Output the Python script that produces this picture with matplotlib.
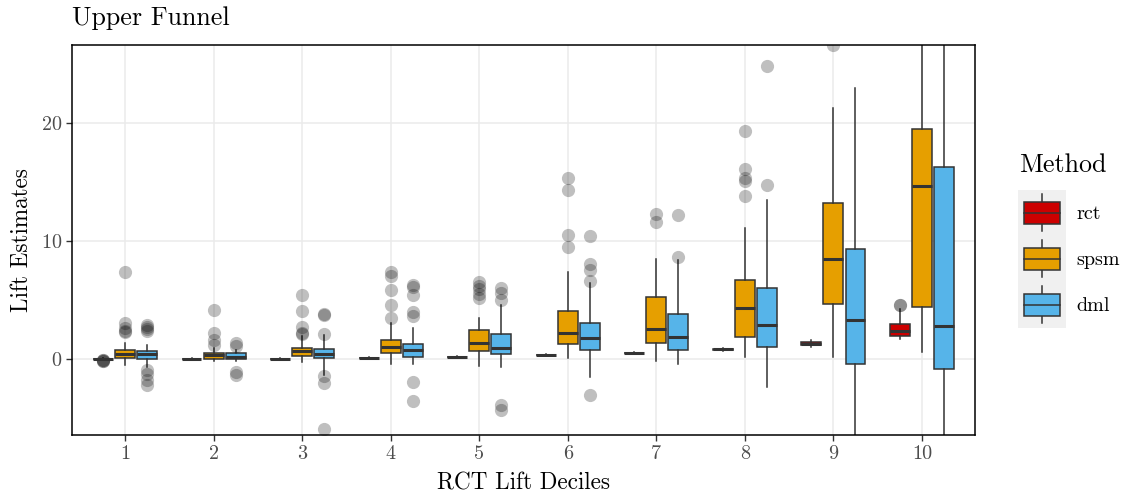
import matplotlib
matplotlib.use("Agg")
import matplotlib.pyplot as plt
from matplotlib.patches import Patch, Rectangle
from matplotlib.lines import Line2D
from matplotlib.legend_handler import HandlerBase

plt.rcParams['font.family'] = ['cmr10', 'DejaVu Serif']
plt.rcParams['axes.formatter.use_mathtext'] = True
plt.rcParams['mathtext.fontset'] = 'cm'

# data
deciles = [1, 2, 3, 4, 5, 6, 7, 8, 9, 10]
methods = ['rct', 'spsm', 'dml']
colors = ['#CC0000', '#E69F00', '#56B4E9']

rct_q1 = [-0.03, -0.02, -0.02, 0.06, 0.15, 0.32, 0.47, 0.75, 1.15, 1.95]
rct_med = [0.0, 0.0, 0.0, 0.08, 0.17, 0.34, 0.5, 0.8, 1.25, 2.37]
rct_q3 = [0.03, 0.02, 0.02, 0.1, 0.19, 0.36, 0.53, 0.85, 1.4, 2.97]
rct_lo = [-0.05, -0.05, -0.05, 0.03, 0.12, 0.29, 0.44, 0.7, 1.0, 1.7]
rct_hi = [0.06, 0.05, 0.05, 0.13, 0.22, 0.39, 0.56, 0.9, 1.6, 4.2]
rct_out = [[-0.1, -0.15, -0.2, -0.12], [], [], [], [], [], [], [], [], [4.6, 4.55]]

spsm_q1 = [0.08, 0.0, 0.25, 0.5, 0.68, 1.27, 1.37, 1.86, 4.66, 4.4]
spsm_med = [0.45, 0.35, 0.68, 1.0, 1.35, 2.2, 2.54, 4.3, 8.47, 14.66]
spsm_q3 = [0.76, 0.5, 0.95, 1.6, 2.46, 4.07, 5.27, 6.7, 13.2, 19.5]
spsm_lo = [-0.5, -0.15, -0.25, -0.4, -0.6, 0.08, -0.15, 0.17, 0.17, 0.6]
spsm_hi = [1.35, 0.9, 1.9, 3.05, 3.5, 7.37, 8.47, 11.1, 21.3, 30.0]
spsm_out = [[7.4, 3.0, 2.6, 2.4, 2.3], [4.15, 2.2, 1.6, 1.2], [5.4, 4.1, 2.7, 2.2, 2.1],
            [7.4, 7.0, 5.8, 4.6, 3.5], [6.5, 6.2, 5.9, 5.5, 5.2], [15.3, 14.3, 10.5, 9.5],
            [12.3, 11.6], [19.3, 16.1, 15.3, 15.1, 13.8], [26.6], []]

dml_q1 = [0.0, 0.0, 0.08, 0.17, 0.42, 0.76, 0.76, 1.0, -0.4, -0.85]
dml_med = [0.4, 0.2, 0.42, 0.75, 0.93, 1.8, 1.86, 2.9, 3.3, 2.8]
dml_q3 = [0.68, 0.5, 0.85, 1.3, 2.1, 3.05, 3.8, 6.0, 9.3, 16.3]
dml_lo = [-0.7, -0.2, -1.35, -0.4, -0.65, -1.5, -0.4, -2.4, -8.0, -9.0]
dml_hi = [1.2, 0.75, 2.0, 2.6, 4.6, 6.4, 8.4, 13.5, 22.96, 30.0]
dml_out = [[2.9, 2.7, 2.5, 2.4, -0.9, -1.3, -1.8, -2.2], [1.35, 1.1, -1.1, -1.35],
           [3.8, 3.7, 2.1, -1.45, -2.05, -5.95], [6.25, 6.1, 5.4, 4.0, 3.6, -1.95, -3.6],
           [6.0, 5.6, 5.0, -3.9, -4.3], [10.4, 8.0, 7.5, 6.6, -3.05], [12.2, 8.65],
           [24.8, 14.7], [], []]

table = {
    'rct': (rct_q1, rct_med, rct_q3, rct_lo, rct_hi, rct_out),
    'spsm': (spsm_q1, spsm_med, spsm_q3, spsm_lo, spsm_hi, spsm_out),
    'dml': (dml_q1, dml_med, dml_q3, dml_lo, dml_hi, dml_out),
}

edge = '#333333'


class BoxKey(HandlerBase):
    # ggplot-like legend key: grey cell, box, median and whiskers
    def create_artists(self, legend, orig_handle, xdescent, ydescent,
                       width, height, fontsize, trans):
        x0, y0 = -xdescent, -ydescent
        bg = Rectangle((x0, y0), width, height, fc='#F0F0F0', ec='none', transform=trans)
        bw, bh = width * 0.74, height * 0.48
        bx, by = x0 + (width - bw) / 2, y0 + (height - bh) / 2
        box = Rectangle((bx, by), bw, bh, fc=orig_handle.get_facecolor(), ec=edge,
                        lw=1.1, transform=trans)
        xm = x0 + width / 2
        med = Line2D([bx, bx + bw], [y0 + height / 2] * 2, color=edge, lw=1.1, transform=trans)
        w1 = Line2D([xm, xm], [by + bh, y0 + height * 0.92], color=edge, lw=1.1, transform=trans)
        w2 = Line2D([xm, xm], [by, y0 + height * 0.1], color=edge, lw=1.1, transform=trans)
        return [bg, w1, w2, box, med]


fig = plt.figure(figsize=(11.3, 4.95), dpi=100)
ax = fig.add_axes([72 / 1130, 60 / 495, 903 / 1130, 390 / 495])

offsets = [-0.25, 0.0, 0.25]
for m, col, off in zip(methods, colors, offsets):
    q1, med, q3, lo, hi, out = table[m]
    stats = [dict(q1=q1[i], med=med[i], q3=q3[i], whislo=lo[i], whishi=hi[i], fliers=out[i])
             for i in range(len(deciles))]
    ax.bxp(stats, positions=[d + off for d in deciles], widths=0.225, patch_artist=True,
           showcaps=False, manage_ticks=False,
           boxprops=dict(facecolor=col, edgecolor=edge, linewidth=1.1),
           medianprops=dict(color=edge, linewidth=2.2, solid_capstyle='butt'),
           whiskerprops=dict(color=edge, linewidth=1.1),
           flierprops=dict(marker='o', markerfacecolor=(0, 0, 0, 0.25),
                           markeredgecolor='none', markersize=9.5))

ax.set_xlim(0.4, 10.6)
ax.set_ylim(-6.45, 26.6)
ax.set_xticks(deciles)
ax.set_xticklabels([str(d) for d in deciles])
ax.set_yticks([0, 10, 20])
ax.grid(True, color='#EBEBEB', linewidth=1.1)
ax.set_axisbelow(True)
for s in ax.spines.values():
    s.set_color('black')
    s.set_linewidth(1.1)
ax.tick_params(axis='both', length=4, width=1.0, color='#333333',
               labelcolor='#4D4D4D', labelsize=14.5, pad=3)
ax.set_xlabel('RCT Lift Deciles', fontsize=16.7, labelpad=7)
ax.set_ylabel('Lift Estimates', fontsize=16.7, labelpad=6)

fig.text(72 / 1130, 1 - 18 / 495, 'Upper Funnel', fontsize=18.7, ha='left', va='center')

# legend: title as its own text, keys below it
fig.text(1019 / 1130, 1 - 165 / 495, 'Method', fontsize=18.7, ha='left', va='center')
handles = [Patch(facecolor=c, label=m) for m, c in zip(methods, colors)]
leg = fig.legend(handles=handles, handler_map={Patch: BoxKey()},
                 loc='upper left', bbox_to_anchor=(1008 / 1130, 1 - 180 / 495),
                 frameon=False, fontsize=14.5, borderpad=0,
                 handlelength=2.4, handleheight=3.13, labelspacing=0,
                 handletextpad=0.5)

fig.savefig('out.png', dpi=100)
